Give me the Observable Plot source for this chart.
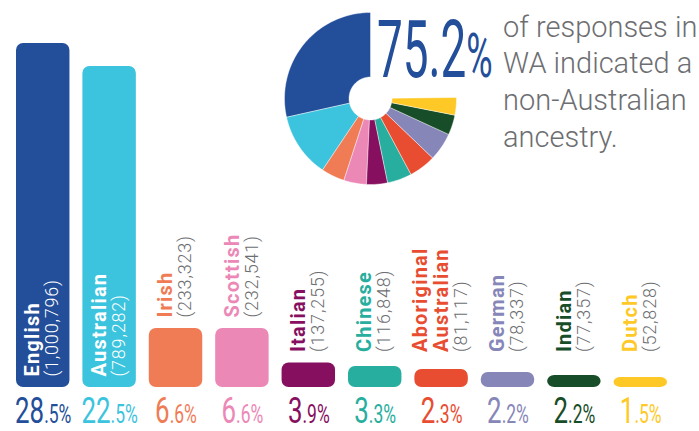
<!DOCTYPE html>
<html>
<head>
<meta charset="utf-8">
<script src="https://cdn.jsdelivr.net/npm/d3@7"></script>
<script src="https://cdn.jsdelivr.net/npm/@observablehq/plot@0.6"></script>
<style>
html, body { margin: 0; padding: 0; background: #fff; }
#wrap { position: relative; width: 699px; height: 431px; overflow: hidden; font-family: Roboto, sans-serif; }
#bars { position: absolute; left: 0; top: 0; }
#pie { position: absolute; left: 279.5px; top: 8px; }
#headline { position: absolute; left: 377px; top: 11px; font-size: 79px; line-height: 1; font-weight: 400;
  color: #234e9a; transform: scaleX(0.58); transform-origin: 0 0; white-space: nowrap; }
#headline span { font-size: 62px; }
#blurb { position: absolute; left: 503px; top: 8.5px; font-size: 29px; line-height: 36.7px; font-weight: 300;
  color: #6d6e71; white-space: nowrap; }
</style>
</head>
<body>
<div id="wrap">
  <div id="bars"></div>
  <div id="pie"></div>
  <div id="headline"></div>
  <div id="blurb"></div>
</div>
<script>
// ---- data ----
const ancestries = ["English", "Australian", "Irish", "Scottish", "Italian", "Chinese",
  "Aboriginal Australian", "German", "Indian", "Dutch"];
const counts = [1000796, 789282, 233323, 232541, 137255, 116848, 81117, 78337, 77357, 52828];
const percents = [28.5, 22.5, 6.6, 6.6, 3.9, 3.3, 2.3, 2.2, 2.2, 1.5];
// angular share of each slice in the decorative donut (percent of a full turn)
const pieShares = [28.5, 12.1, 4.4, 4.25, 3.95, 4.6, 5.05, 5.3, 3.75, 3.3];
const headline = 75.2;
const blurbLines = ["of responses in", "WA indicated a", "non-Australian", "ancestry."];

// ---- styling ----
const palette = ["#234e9a", "#3cc3dd", "#f07c56", "#ec88b6", "#870f5f", "#27ae9e",
  "#e84d31", "#8786b8", "#174d28", "#fec926"];
const gray = "#6d6e71";

// Bar heights in the infographic are stylised, not proportional to the counts:
// a piecewise mapping count -> drawn height (px).
const W = 699, H = 431, baseY = 387;
const barHeightsPx = [344, 321, 59, 59, 24.5, 21, 18, 15, 12, 10];
const heightOf = d3.scaleLinear()
  .domain([0, ...counts.slice().reverse()])
  .range([0, ...barHeightsPx.slice().reverse()]);

const fmt = d3.format(",");
const tier = v => v > 500000 ? 0 : v > 200000 ? 1 : 2;
const rows = ancestries.map((name, i) => ({name, count: counts[i], pct: percents[i], tier: tier(counts[i])}));
rows.forEach(r => {
  r.h = heightOf(r.count);
  r.labelY = r.tier === 0 ? 0 : d3.max(rows.filter(s => s.tier === r.tier), s => heightOf(s.count));
  r.label = r.name.replace(" ", "\n") + "\n(" + fmt(r.count) + ")";
});

const labelOpts = {
  x: "name", y: "labelY", text: "label", rotate: -90, textAnchor: "start", lineAnchor: "middle",
  lineHeight: 1.05, fontSize: 20, fontWeight: 700, fontFamily: "Roboto", dy: -11
};

const svg = Plot.plot({
  width: W, height: H,
  marginLeft: 16, marginRight: 32, marginTop: 0, marginBottom: H - baseY,
  x: {domain: ancestries, paddingInner: 0.195, paddingOuter: 0, round: false, axis: null},
  y: {domain: [0, baseY], axis: null},
  color: {domain: ancestries, range: palette},
  marks: [
    Plot.barY(rows, {x: "name", y: "h", fill: "name", rx: 7, ry: 7}),
    Plot.text(rows.filter(r => r.tier === 0), {...labelOpts, fill: "white"}),
    Plot.text(rows.filter(r => r.tier !== 0), {...labelOpts, fill: "name"}),
    Plot.text(rows, {x: "name", y: () => 0, text: d => d.pct.toFixed(1) + "%", fill: "name",
      textAnchor: "middle", lineAnchor: "bottom", dy: 35, fontFamily: "Roboto", fontWeight: 400})
  ]
});
document.getElementById("bars").append(svg);

function condense(el, s) {
  let t = el.getAttribute("transform") || "";
  if (!/translate/.test(t)) {
    const x = el.getAttribute("x") || 0, y = el.getAttribute("y") || 0;
    t = `translate(${x},${y}) ` + t;
    el.removeAttribute("x"); el.removeAttribute("y");
  }
  el.setAttribute("transform", t + ` scale(${s},1)`);
}

const textGroups = Array.from(svg.children).filter(g => g.getAttribute("aria-label") === "text");
const [labelsIn, labelsOut, pctGroup] = textGroups;

pctGroup.querySelectorAll("text").forEach(el => {
  const m = el.textContent.match(/^(\d+)(.*)$/);
  el.textContent = "";
  d3.select(el).append("tspan").attr("font-size", 37).text(m[1]);
  d3.select(el).append("tspan").attr("font-size", 25).text(m[2]);
  condense(el, 0.7);
});
[[labelsIn, true], [labelsOut, false]].forEach(([g, inside]) => {
  g.querySelectorAll("text").forEach(el => {
    el.style.letterSpacing = "1.2px";
    const ts = el.querySelectorAll("tspan");
    const last = ts[ts.length - 1];
    last.setAttribute("font-size", 18);
    last.setAttribute("font-weight", 300);
    last.setAttribute("fill", inside ? "white" : gray);
    last.style.letterSpacing = "0.8px";
  });
});

// ---- donut ----
const pieGen = d3.pie().sort(null).startAngle(0).endAngle(2 * Math.PI * d3.sum(pieShares) / 100);
const arcs = pieGen(pieShares);
const inner = 0.25;
function slicePoints(a0, a1) {
  const n = Math.max(2, Math.ceil((a1 - a0) / (Math.PI / 180)) + 1);
  const pts = [];
  for (let k = 0; k < n; ++k) {
    const a = a0 + (a1 - a0) * k / (n - 1);
    pts.push({x: -Math.sin(a), y: Math.cos(a)});
  }
  for (let k = n - 1; k >= 0; --k) {
    const a = a0 + (a1 - a0) * k / (n - 1);
    pts.push({x: -Math.sin(a) * inner, y: Math.cos(a) * inner});
  }
  pts.push(pts[0]);
  return pts;
}
const pie = Plot.plot({
  width: 180, height: 180, margin: 4,
  x: {domain: [-1, 1], axis: null},
  y: {domain: [-1, 1], axis: null},
  marks: arcs.map((a, i) => Plot.line(slicePoints(a.startAngle, a.endAngle),
    {x: "x", y: "y", fill: palette[i], stroke: "white", strokeWidth: 0.6, strokeOpacity: 0.7}))
});
document.getElementById("pie").append(pie);

// ---- headline + text ----
const hl = document.getElementById("headline");
hl.textContent = String(headline);
const pc = document.createElement("span");
pc.textContent = "%";
hl.append(pc);
document.getElementById("blurb").innerHTML = blurbLines.join("<br>");
</script>
</body>
</html>
